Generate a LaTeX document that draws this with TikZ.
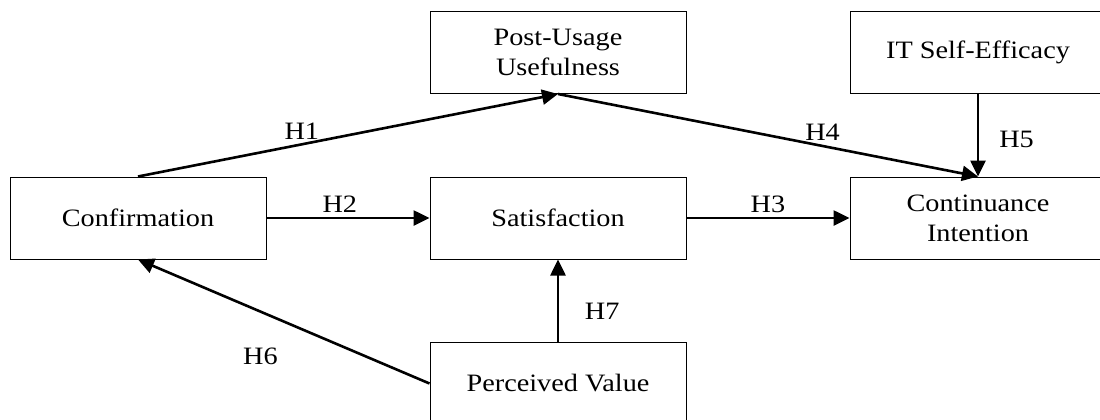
\documentclass[tikz,border=0pt]{standalone}
\usepackage{fontspec}
\setmainfont{Liberation Serif}[FakeStretch=1.13]
\usetikzlibrary{arrows.meta, positioning}

\begin{document}
\begin{tikzpicture}[x=0.5pt, y=-0.5pt, node distance=82.75pt and 210pt, on grid,
    font=\fontsize{12.5}{15}\selectfont,
    construct/.style={draw, line width=0.5pt, minimum width=128pt, minimum height=41pt, align=center, inner sep=0pt},
    hyp/.style={-{Triangle[length=8pt, width=7.5pt]}, line width=1.3pt},
    lbl/.style={inner sep=2pt}]
    \useasboundingbox (0,0) rectangle (1100,419);
    \clip (0,0) rectangle (1100,419);
    \node[construct] (conf) at (138,218) {Confirmation};
    \node[construct] (sat) [right=of conf] {Satisfaction};
    \node[construct] (pu) [above=of sat] {Post-Usage\\Usefulness};
    \node[construct] (pv) [below=of sat] {Perceived Value};
    \node[construct] (ci) [right=of sat] {Continuance\\Intention};
    \node[construct] (itse) [above=of ci] {IT Self-Efficacy};
	\path[hyp]
	(conf.north) edge node [lbl, pos=0.39, above] {H1} (pu.south)
	(conf) edge node [lbl, pos=0.45, above] {H2} (sat)
	(sat) edge node [lbl, above] {H3} (ci)
	(pu.south) edge node [lbl, pos=0.63, above] {H4} (ci.north)
	(itse) edge node [lbl, pos=0.55, right=8pt] {H5} (ci)
	(pv.west) edge node [lbl, pos=0.58, below=15.5pt] {H6} (conf.south)
	(pv) edge node [lbl, pos=0.37, right=10.8pt] {H7} (sat);
\end{tikzpicture}
\end{document}
